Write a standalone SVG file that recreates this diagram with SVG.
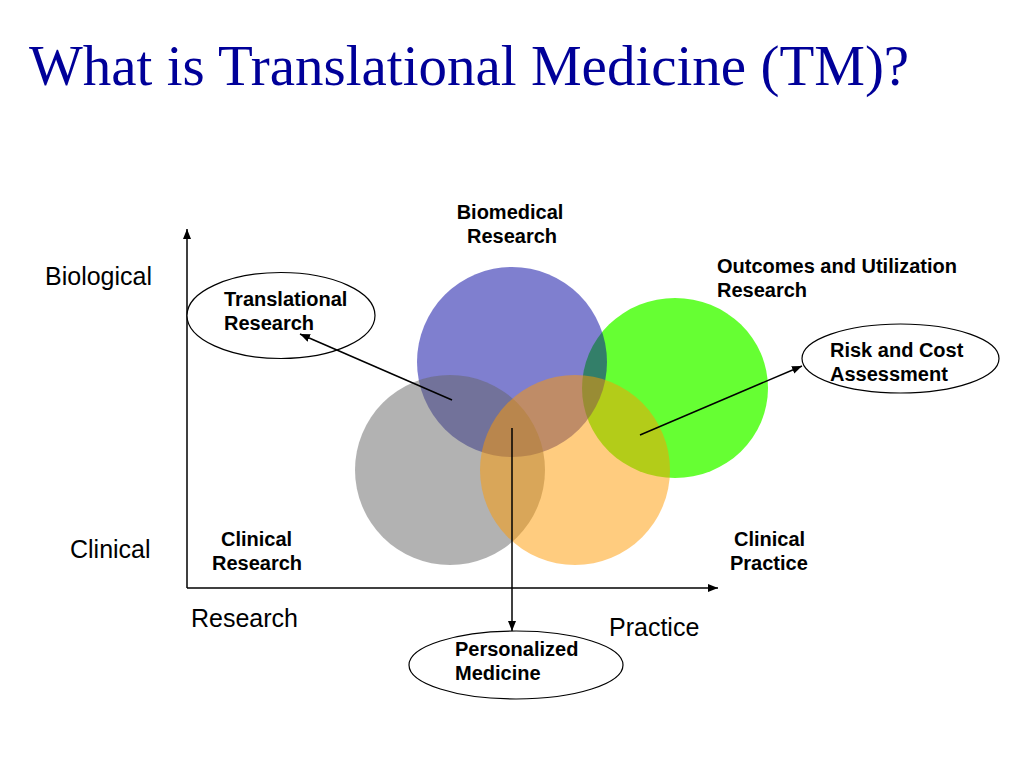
<svg xmlns="http://www.w3.org/2000/svg" width="1024" height="768" viewBox="0 0 1024 768">
<defs>
<marker id="ah" viewBox="0 0 10 8" refX="10" refY="4" markerWidth="10" markerHeight="8" markerUnits="userSpaceOnUse" orient="auto">
<path d="M0,0 L10,4 L0,8 Z" fill="#000"/>
</marker>
</defs>
<style>
.title{font-family:"Liberation Serif","Times New Roman",serif;font-size:57px;fill:#000099}
.ax{font-family:"Liberation Sans",Arial,sans-serif;font-size:25px;fill:#000}
.lb{font-family:"Liberation Sans",Arial,sans-serif;font-size:20px;font-weight:bold;fill:#000}
.line{stroke:#000;stroke-width:1.5;fill:none}
.ell{fill:#fff;stroke:#000;stroke-width:1.2}
</style>
<rect width="1024" height="768" fill="#fff"/>
<text class="title" x="29" y="85">What is Translational Medicine (TM)?</text>

<g id="circles">
<ellipse id="c-outcomes" cx="675" cy="388" rx="93" ry="90" fill="#66ff33"/>
<circle id="c-biomedical" cx="512" cy="362" r="95" fill="#0000a0" fill-opacity="0.5"/>
<circle id="c-clinical-research" cx="450" cy="470" r="95" fill="#666666" fill-opacity="0.5"/>
<circle id="c-clinical-practice" cx="575" cy="470" r="95" fill="#ff9900" fill-opacity="0.5"/>
</g>

<g id="axes">
<line class="line" x1="187" y1="588" x2="187" y2="229" marker-end="url(#ah)"/>
<line class="line" x1="187" y1="588" x2="718" y2="588" marker-end="url(#ah)"/>
</g>

<g id="axis-labels">
<text class="ax" x="45" y="285">Biological</text>
<text class="ax" x="70" y="558">Clinical</text>
<text class="ax" x="191" y="627">Research</text>
<text class="ax" x="609" y="636">Practice</text>
</g>

<g id="n-biomedical">
<text class="lb" x="510" y="219" text-anchor="middle">Biomedical</text>
<text class="lb" x="512" y="243" text-anchor="middle">Research</text>
</g>
<g id="n-outcomes">
<text class="lb" x="717" y="273">Outcomes and Utilization</text>
<text class="lb" x="717" y="297">Research</text>
</g>
<g id="n-clinical-research">
<text class="lb" x="221" y="546">Clinical</text>
<text class="lb" x="212" y="570">Research</text>
</g>
<g id="n-clinical-practice">
<text class="lb" x="734" y="546">Clinical</text>
<text class="lb" x="730" y="570">Practice</text>
</g>

<g id="n-translational">
<ellipse class="ell" cx="281" cy="315.5" rx="94" ry="43"/>
<text class="lb" x="224" y="306">Translational</text>
<text class="lb" x="224" y="330">Research</text>
</g>
<g id="n-risk">
<ellipse class="ell" cx="900.5" cy="358.5" rx="98.5" ry="34.5"/>
<text class="lb" x="830" y="357">Risk and Cost</text>
<text class="lb" x="830" y="381">Assessment</text>
</g>
<g id="n-personalized">
<ellipse class="ell" cx="516" cy="665" rx="107" ry="34"/>
<text class="lb" x="455" y="656">Personalized</text>
<text class="lb" x="455" y="680">Medicine</text>
</g>

<g id="connectors">
<line class="line" x1="452" y1="400" x2="300" y2="334" marker-end="url(#ah)"/>
<line class="line" x1="512" y1="428" x2="512" y2="631" marker-end="url(#ah)"/>
<line class="line" x1="640" y1="435" x2="802" y2="366" marker-end="url(#ah)"/>
</g>
</svg>
